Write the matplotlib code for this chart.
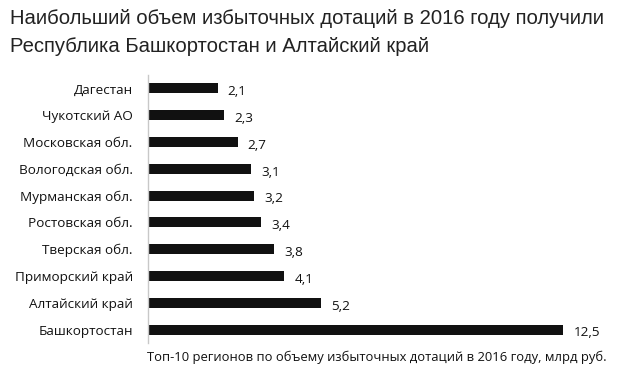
import matplotlib.pyplot as plt

regions = ["Дагестан", "Чукотский АО", "Московская обл.", "Вологодская обл.",
           "Мурманская обл.", "Ростовская обл.", "Тверская обл.",
           "Приморский край", "Алтайский край", "Башкортостан"]
values = [2.1, 2.3, 2.7, 3.1, 3.2, 3.4, 3.8, 4.1, 5.2, 12.5]
value_labels = ["2,1", "2,3", "2,7", "3,1", "3,2", "3,4", "3,8", "4,1", "5,2", "12,5"]

title = ("Наибольший объем избыточных дотаций в 2016 году получили\n"
         "Республика Башкортостан и Алтайский край")
caption = "Топ-10 регионов по объему избыточных дотаций в 2016 году, млрд руб."

fig = plt.figure(figsize=(6.4, 3.7), dpi=100)
ax = fig.add_axes([148 / 640, 27 / 370, (620 - 148) / 640, 268 / 370])

pos = list(range(len(regions)))
ax.barh(pos, values, height=0.38, color="#111111")
ax.set_ylim(len(regions) - 0.5, -0.5)
ax.set_xlim(0, 14.2)

ax.set_yticks(pos)
ax.set_yticklabels(regions, fontsize=9.7, family="Open Sans", color="#111111")
ax.tick_params(axis="y", length=0, pad=11)
ax.set_xticks([])

for s in ["top", "right", "bottom"]:
    ax.spines[s].set_visible(False)
ax.spines["left"].set_color("#c8c8c8")
ax.spines["left"].set_linewidth(1)

for i, (v, lab) in enumerate(zip(values, value_labels)):
    ax.text(v + 0.3, i + 0.12, lab, va="center", ha="left",
            fontsize=9.7, family="Open Sans", color="#111111")

fig.text(10 / 640, 1 - 9 / 370, title, ha="left", va="top", fontsize=14.6,
         family="Liberation Sans", color="#222222", linespacing=1.6)
fig.text(147 / 640, 1 - 357 / 370, caption, ha="left", va="center",
         fontsize=9.4, family="Open Sans", color="#111111")

fig.savefig("out.png", dpi=100)
